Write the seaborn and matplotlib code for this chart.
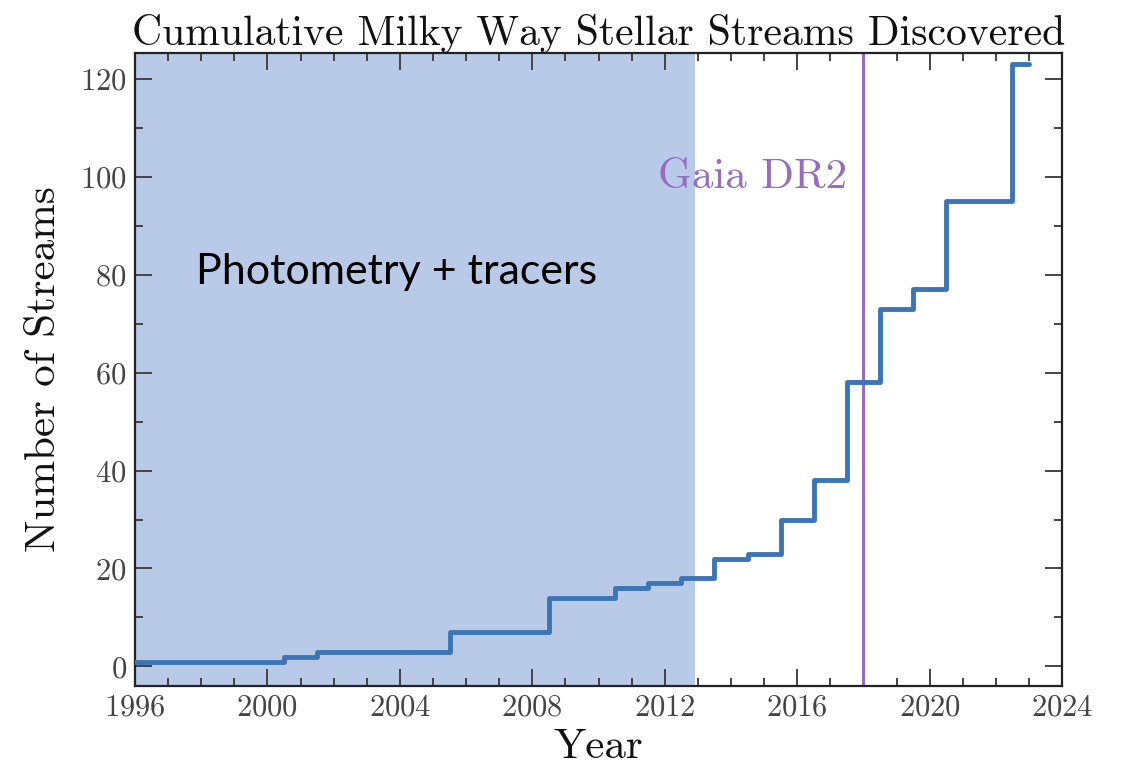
import numpy as np
import pandas as pd
import matplotlib
matplotlib.use("Agg")
import matplotlib.pyplot as plt
from matplotlib.ticker import MultipleLocator
import seaborn as sns

# Data
years = list(range(1996, 2024))
n_streams = [1, 1, 1, 1, 1, 2, 3, 3, 3, 3, 7, 7, 7, 14, 14, 16, 17,
             18, 22, 23, 30, 38, 58, 73, 77, 95, 95, 123]
gaia_dr2_year = 2018.0
photometry_span = [1996, 2012.9]

df = pd.DataFrame({"Year": years, "Streams": n_streams})

sns.set_theme(style="ticks")
plt.rcParams["font.family"] = ["cmr10", "DejaVu Serif"]
plt.rcParams["axes.formatter.use_mathtext"] = True
plt.rcParams["mathtext.fontset"] = "cm"

fig = plt.figure(figsize=(11.29, 7.70), dpi=100)
ax = fig.add_axes([0.1196, 0.1091, 0.8211, 0.8221])

ax.axvspan(photometry_span[0], photometry_span[1], color="#b8cae8", lw=0, zorder=0)
ax.axvline(gaia_dr2_year, color="#956dc2", lw=2.2, zorder=2)

sns.lineplot(data=df, x="Year", y="Streams", ax=ax, color="#3b75b6",
             lw=3.5, drawstyle="steps-mid", zorder=3)

ax.set_xlim(1996, 2024)
ax.set_ylim(-4, 125.3)
ax.xaxis.set_major_locator(MultipleLocator(4))
ax.xaxis.set_minor_locator(MultipleLocator(1))
ax.yaxis.set_major_locator(MultipleLocator(20))
ax.yaxis.set_minor_locator(MultipleLocator(10))
ax.tick_params(which="both", direction="in", top=True, right=True,
               colors="#444444", labelsize=22, width=1.4, pad=6)
ax.tick_params(which="major", length=12)
ax.tick_params(which="minor", length=6)
for s in ax.spines.values():
    s.set_linewidth(1.6)
    s.set_color("#222222")

ax.set_title("Cumulative Milky Way Stellar Streams Discovered",
             fontsize=30, color="#111111", pad=4)
ax.set_xlabel("Year", fontsize=31, color="#111111", labelpad=5)
ax.set_ylabel("Number of Streams", fontsize=31, color="#111111", labelpad=12)

ax.text(2017.5, 100, "Gaia DR2", color="#956dc2", fontsize=31,
        ha="right", va="center")
ax.text(2003.9, 80.5, "Photometry + tracers", color="black", fontsize=31,
        ha="center", va="center", family=["Lato", "DejaVu Sans"])

fig.savefig("out.png", dpi=100)
